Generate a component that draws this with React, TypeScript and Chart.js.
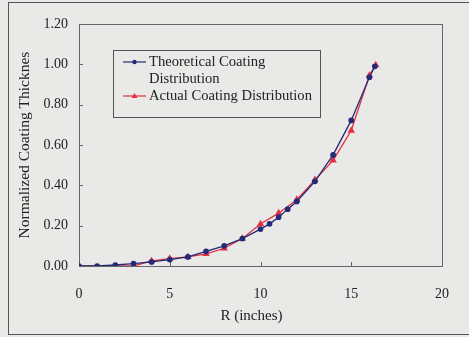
import React, { useEffect, useRef } from "react";
import { Chart, registerables } from "chart.js";

Chart.register(...registerables);

const theoreticalR = [0, 1, 2, 3, 4, 5, 6, 7, 8, 9, 10, 10.5, 11, 11.5, 12, 13, 14, 15, 16, 16.3];
const theoreticalT = [0, 0, 0.005, 0.012, 0.02, 0.032, 0.045, 0.073, 0.1, 0.136, 0.183, 0.209, 0.242, 0.282, 0.32, 0.42, 0.551, 0.722, 0.936, 0.99];
const actualR = [0, 3, 4, 5, 6, 7, 8, 9, 10, 11, 12, 13, 14, 15, 16, 16.35];
const actualT = [0, 0, 0.025, 0.037, 0.045, 0.06, 0.088, 0.136, 0.208, 0.262, 0.329, 0.427, 0.524, 0.672, 0.945, 0.996];
const xTicks = [0, 5, 10, 15, 20];
const yTicks = [0, 0.2, 0.4, 0.6, 0.8, 1.0, 1.2];
const seriesNames = ["Theoretical Coating Distribution", "Actual Coating Distribution"];
const xTitle = "R (inches)";
const yTitle = "Normalized Coating Thicknes";

const FONT = "'Liberation Serif', 'DejaVu Serif', serif";
const BLUE = "#232a78";
const RED = "#e4303e";
const BG = "#e9e9e7";

const framePlugin = {
  id: "frame",
  beforeDraw(chart: any) {
    const { ctx, width, height } = chart;
    ctx.save();
    ctx.fillStyle = BG;
    ctx.fillRect(0, 0, width, height);
    ctx.strokeStyle = "#555";
    ctx.lineWidth = 1;
    ctx.strokeRect(8.5, 2.5, width + 10, height - 5);
    const a = chart.chartArea;
    ctx.strokeStyle = "#666";
    ctx.strokeRect(a.left + 0.5, a.top + 0.5, a.right - a.left, a.bottom - a.top);
    const xs = chart.scales.x;
    const ys = chart.scales.y;
    ctx.beginPath();
    xTicks.forEach((t) => {
      const px = Math.round(xs.getPixelForValue(t)) + 0.5;
      ctx.moveTo(px, a.bottom);
      ctx.lineTo(px, a.bottom - 4);
    });
    yTicks.forEach((t) => {
      const py = Math.round(ys.getPixelForValue(t)) + 0.5;
      ctx.moveTo(a.left, py);
      ctx.lineTo(a.left + 4, py);
    });
    ctx.stroke();
    // x axis title (slightly left of centre as in reference)
    ctx.font = `15px ${FONT}`;
    ctx.fillStyle = "#222";
    ctx.textAlign = "center";
    ctx.textBaseline = "middle";
    ctx.fillText(xTitle, xs.getPixelForValue(9.5), 316);
    ctx.restore();
  },
};

const legendPlugin = {
  id: "customLegend",
  afterDraw(chart: any) {
    const { ctx } = chart;
    ctx.save();
    const bx = 113.5, by = 50.5, bw = 207, bh = 67;
    ctx.strokeStyle = "#555";
    ctx.lineWidth = 1;
    ctx.strokeRect(bx, by, bw, bh);
    ctx.font = `14.6px ${FONT}`;
    ctx.fillStyle = "#222";
    ctx.textBaseline = "middle";
    const lx1 = 123, lx2 = 146, tx = 149;
    let y = 62;
    ctx.strokeStyle = BLUE;
    ctx.lineWidth = 1.2;
    ctx.beginPath();
    ctx.moveTo(lx1, y);
    ctx.lineTo(lx2, y);
    ctx.stroke();
    ctx.fillStyle = BLUE;
    ctx.beginPath();
    ctx.arc((lx1 + lx2) / 2, y, 2.2, 0, Math.PI * 2);
    ctx.fill();
    ctx.fillStyle = "#222";
    ctx.fillText("Theoretical Coating", tx, y);
    ctx.fillText("Distribution", tx, y + 17);
    y = 96;
    ctx.strokeStyle = RED;
    ctx.beginPath();
    ctx.moveTo(lx1, y);
    ctx.lineTo(lx2, y);
    ctx.stroke();
    ctx.fillStyle = RED;
    const cx = (lx1 + lx2) / 2;
    ctx.beginPath();
    ctx.moveTo(cx, y - 3);
    ctx.lineTo(cx + 3, y + 2);
    ctx.lineTo(cx - 3, y + 2);
    ctx.closePath();
    ctx.fill();
    ctx.fillStyle = "#222";
    ctx.fillText("Actual Coating Distribution", tx, y);
    ctx.restore();
  },
};

export default function App() {
  const ref = useRef<HTMLCanvasElement>(null);
  useEffect(() => {
    document.body.style.margin = "0";
    const chart = new Chart(ref.current!, {
      type: "line",
      data: {
        datasets: [
          {
            label: seriesNames[0],
            data: theoreticalR.map((x, i) => ({ x, y: theoreticalT[i] })),
            borderColor: BLUE,
            backgroundColor: BLUE,
            borderWidth: 1.3,
            pointRadius: 2.2,
            pointStyle: "circle",
            tension: 0,
          },
          {
            label: seriesNames[1],
            data: actualR.map((x, i) => ({ x, y: actualT[i] })),
            borderColor: RED,
            backgroundColor: RED,
            borderWidth: 1.3,
            pointRadius: 3,
            pointStyle: "triangle",
            tension: 0,
          },
        ],
      },
      options: {
        animation: false,
        responsive: false,
        layout: { padding: { left: 0, top: 24, right: 25, bottom: 0 } },
        plugins: { legend: { display: false }, tooltip: { enabled: false } },
        scales: {
          x: {
            type: "linear",
            min: 0,
            max: 20,
            afterBuildTicks: (s: any) => {
              s.ticks = xTicks.map((v) => ({ value: v }));
            },
            afterFit: (s: any) => {
              s.height = 71;
            },
            grid: { display: false, drawTicks: false },
            border: { display: false },
            ticks: { padding: 20, color: "#222", font: { family: FONT, size: 14 } },
            title: { display: false, text: xTitle },
          },
          y: {
            type: "linear",
            min: 0,
            max: 1.2,
            afterBuildTicks: (s: any) => {
              s.ticks = yTicks.map((v) => ({ value: v }));
            },
            afterFit: (s: any) => {
              s.width = 79;
            },
            grid: { display: false, drawTicks: false },
            border: { display: false },
            ticks: {
              padding: 11,
              color: "#222",
              font: { family: FONT, size: 14 },
              callback: (v: any) => Number(v).toFixed(2),
            },
            title: {
              display: true,
              text: yTitle,
              color: "#222",
              font: { family: FONT, size: 15.5 },
              padding: { top: 16, bottom: 0 },
            },
          },
        },
      },
      plugins: [framePlugin, legendPlugin],
    });
    return () => chart.destroy();
  }, []);
  return (
    <div style={{ position: "absolute", left: 0, top: 0, width: 469, height: 337 }}>
      <canvas ref={ref} width={469} height={337} style={{ display: "block" }} />
    </div>
  );
}
